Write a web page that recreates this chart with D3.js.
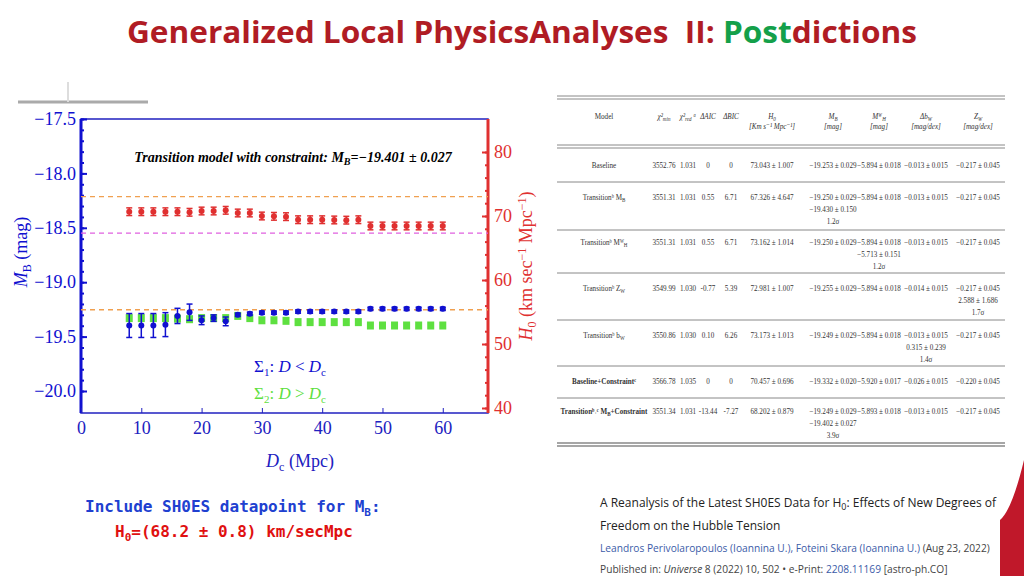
<!DOCTYPE html>
<html>
<head>
<meta charset="utf-8">
<style>body{margin:0;background:#fff}svg{display:block}</style>
<script src="https://cdn.jsdelivr.net/npm/d3@7"></script>
</head>
<body>
<script>
const dc = [8,10,12,14,16,18,20,22,24,26,28,30,32,34,36,38,40,42,44,46,48,50,52,54,56,58,60];
const h0 = [70.67,70.67,70.67,70.67,70.67,70.58,70.78,70.78,70.89,70.47,70.47,70.0,69.95,69.9,69.42,69.42,69.42,69.38,69.35,69.42,68.44,68.44,68.44,68.44,68.44,68.44,68.44];
const h0Err = 0.6;
const mbBlue = [-19.398,-19.398,-19.398,-19.39,-19.31,-19.276,-19.35,-19.33,-19.36,-19.30,-19.29,-19.28,-19.28,-19.28,-19.27,-19.27,-19.27,-19.27,-19.27,-19.27,-19.245,-19.245,-19.245,-19.245,-19.245,-19.245,-19.245];
const mbBlueErr = [0.11,0.11,0.11,0.11,0.07,0.075,0.04,0.03,0.04,0.015,0.015,0.015,0.015,0.015,0.015,0.015,0.015,0.015,0.015,0.015,0.015,0.015,0.015,0.015,0.015,0.015,0.015];
const mbGreen = [-19.33,-19.33,-19.33,-19.33,-19.335,-19.34,-19.33,-19.33,-19.33,-19.31,-19.33,-19.35,-19.35,-19.355,-19.367,-19.367,-19.367,-19.367,-19.367,-19.367,-19.398,-19.398,-19.398,-19.398,-19.398,-19.398,-19.398];
const h0Lines = [{v:73.04,c:"#f0a050"},{v:67.33,c:"#e060e0"}];
const mbLine = -19.253;
const xTicks = [0,10,20,30,40,50,60];
const yTicks = [-17.5,-18.0,-18.5,-19.0,-19.5,-20.0];
const rTicks = [40,50,60,70,80];

const tableHead = ["Model","χ²_min","χ²_red ᵃ","ΔAIC","ΔBIC","H_0|[Km s⁻¹ Mpc⁻¹]","M_B|[mag]","Mᵂ_H|[mag]","Δb_W|[mag/dex]","Z_W|[mag/dex]"];
const tableRows = [
  ["Baseline","3552.76","1.031","0","0","73.043 ± 1.007","−19.253 ± 0.029","−5.894 ± 0.018","−0.013 ± 0.015","−0.217 ± 0.045"],
  ["Transitionᵇ M_B","3551.31","1.031","0.55","6.71","67.326 ± 4.647","−19.250 ± 0.029|−19.430 ± 0.150|1.2σ","−5.894 ± 0.018","−0.013 ± 0.015","−0.217 ± 0.045"],
  ["Transitionᵇ Mᵂ_H","3551.31","1.031","0.55","6.71","73.162 ± 1.014","−19.250 ± 0.029","−5.894 ± 0.018|−5.713 ± 0.151|1.2σ","−0.013 ± 0.015","−0.217 ± 0.045"],
  ["Transitionᵇ Z_W","3549.99","1.030","-0.77","5.39","72.981 ± 1.007","−19.255 ± 0.029","−5.894 ± 0.018","−0.014 ± 0.015","−0.217 ± 0.045|2.588 ± 1.686|1.7σ"],
  ["Transitionᵇ b_W","3550.86","1.030","0.10","6.26","73.173 ± 1.013","−19.249 ± 0.029","−5.894 ± 0.018","−0.013 ± 0.015|0.315 ± 0.239|1.4σ","−0.217 ± 0.045"],
  ["Baseline+Constraintᶜ","3566.78","1.035","0","0","70.457 ± 0.696","−19.332 ± 0.020","−5.920 ± 0.017","−0.026 ± 0.015","−0.220 ± 0.045"],
  ["Transitionᵇ˒ᶜ M_B+Constraint","3551.34","1.031","-13.44","-7.27","68.202 ± 0.879","−19.249 ± 0.029|−19.402 ± 0.027|3.9σ","−5.893 ± 0.018","−0.013 ± 0.015","−0.217 ± 0.045"]
];

const svg = d3.select("body").append("svg").attr("width",1024).attr("height",576);

// title
const title = svg.append("text").attr("x",522).attr("y",43).attr("text-anchor","middle").attr("xml:space","preserve")
  .style("white-space","pre")
  .attr("font-family","Open Sans, sans-serif").attr("font-weight","bold").attr("font-size",30).attr("fill","#b01c24")
  .attr("textLength",790).attr("lengthAdjust","spacingAndGlyphs");
title.append("tspan").text("Generalized Local PhysicsAnalyses  II: ");
title.append("tspan").attr("fill","#14a04a").text("Post");
title.append("tspan").text("dictions");

svg.append("line").attr("x1",18).attr("x2",148).attr("y1",102).attr("y2",102).attr("stroke","#aaa").attr("stroke-width",3);
svg.append("line").attr("x1",68).attr("x2",68).attr("y1",82).attr("y2",102).attr("stroke","#ddd").attr("stroke-width",2);

// chart
const L=81,R=488,T=119,B=413;
const x = d3.scaleLinear().domain([0,67.5]).range([L,R]);
const y = d3.scaleLinear().domain([-17.5,-20.0]).range([T,391]);
const yr = d3.scaleLinear().domain([80,40]).range([152,408]);
const serif = "Liberation Serif, DejaVu Serif, serif";

svg.append("rect").attr("x",L).attr("y",T).attr("width",R-L).attr("height",B-T).attr("fill","none").attr("stroke","#2020c0").attr("stroke-width",1.5);
svg.append("line").attr("x1",L).attr("x2",L).attr("y1",T).attr("y2",B).attr("stroke","#1010d0").attr("stroke-width",3);
svg.append("line").attr("x1",R).attr("x2",R).attr("y1",T).attr("y2",B).attr("stroke","#e03030").attr("stroke-width",3);

const gx = svg.append("g").attr("transform",`translate(0,${B})`)
  .call(d3.axisBottom(x).tickValues(xTicks).tickSize(-5).tickPadding(8));
gx.select(".domain").remove();
gx.selectAll("line").attr("stroke","#2020c0");
gx.selectAll("text").attr("font-family",serif).attr("font-size",18).attr("fill","#2020c0");

const gl = svg.append("g").attr("transform",`translate(${L},0)`)
  .call(d3.axisLeft(y).tickValues(yTicks).tickFormat(d=>d3.format(".1f")(d).replace("-","−")).tickSize(-6).tickPadding(5));
gl.select(".domain").remove();
gl.selectAll("line").attr("stroke","#1010d0").attr("stroke-width",2);
gl.selectAll("text").attr("font-family",serif).attr("font-size",18).attr("fill","#1010d0");
svg.append("g").attr("transform",`translate(${L},0)`).call(d3.axisLeft(y).ticks(25).tickSize(-3).tickFormat("")).call(g=>g.select(".domain").remove()).selectAll("line").attr("stroke","#1010d0").attr("stroke-width",2);

const gr = svg.append("g").attr("transform",`translate(${R},0)`)
  .call(d3.axisRight(yr).tickValues(rTicks).tickSize(-6).tickPadding(6));
gr.select(".domain").remove();
gr.selectAll("line").attr("stroke","#e03030").attr("stroke-width",2);
gr.selectAll("text").attr("font-family",serif).attr("font-size",18).attr("fill","#e03030");
svg.append("g").attr("transform",`translate(${R},0)`).call(d3.axisRight(yr).ticks(20).tickSize(-3).tickFormat("")).call(g=>g.select(".domain").remove()).selectAll("line").attr("stroke","#e03030").attr("stroke-width",2);

h0Lines.forEach(l=>svg.append("line").attr("x1",L).attr("x2",R).attr("y1",yr(l.v)).attr("y2",yr(l.v)).attr("stroke",l.c).attr("stroke-width",1.3).attr("stroke-dasharray","5,4"));
svg.append("line").attr("x1",L).attr("x2",R).attr("y1",y(mbLine)).attr("y2",y(mbLine)).attr("stroke","#f0a050").attr("stroke-width",1.3).attr("stroke-dasharray","5,4");

svg.append("text").attr("x",293).attr("y",162).attr("text-anchor","middle").attr("font-family",serif)
  .attr("font-weight","bold").attr("font-style","italic").attr("font-size",14)
  .html('Transition model with constraint: M<tspan font-size="10" dy="3">B</tspan><tspan dy="-3">=−19.401 ± 0.027</tspan>');

// green squares
svg.append("g").selectAll("rect").data(dc).join("rect")
  .attr("x",d=>x(d)-3.5).attr("y",(d,i)=>y(mbGreen[i])-4).attr("width",7).attr("height",8).attr("fill","#5ee040");

function errDots(vals, errs, sy, col){
  const g = svg.append("g").attr("stroke",col).attr("fill",col);
  dc.forEach((d,i)=>{
    const e = Array.isArray(errs)?errs[i]:errs;
    const y0=sy(vals[i]-e), y1=sy(vals[i]+e), cx=x(d);
    g.append("line").attr("x1",cx).attr("x2",cx).attr("y1",y0).attr("y2",y1).attr("stroke-width",1.5);
    [y0,y1].forEach(yy=>g.append("line").attr("x1",cx-3).attr("x2",cx+3).attr("y1",yy).attr("y2",yy).attr("stroke-width",1.5));
    g.append("circle").attr("cx",cx).attr("cy",sy(vals[i])).attr("r",3).attr("stroke","none");
  });
}
errDots(h0, h0Err, yr, "#e03030");
errDots(mbBlue, mbBlueErr, y, "#1010d0");

svg.append("text").attr("x",254).attr("y",372).attr("font-family",serif).attr("font-size",17).attr("fill","#1010d0")
  .html('Σ<tspan font-size="11" dy="4">1</tspan><tspan dy="-4">: </tspan><tspan font-style="italic">D</tspan> &lt; <tspan font-style="italic">D</tspan><tspan font-size="11" dy="4">c</tspan>');
svg.append("text").attr("x",254).attr("y",399).attr("font-family",serif).attr("font-size",17).attr("fill","#5ee040")
  .html('Σ<tspan font-size="11" dy="4">2</tspan><tspan dy="-4">: </tspan><tspan font-style="italic">D</tspan> &gt; <tspan font-style="italic">D</tspan><tspan font-size="11" dy="4">c</tspan>');

svg.append("text").attr("x",300).attr("y",467).attr("text-anchor","middle").attr("font-family",serif).attr("font-size",18).attr("fill","#2020c0")
  .html('<tspan font-style="italic">D</tspan><tspan font-size="12" dy="4">c</tspan><tspan dy="-4"> (Mpc)</tspan>');
svg.append("text").attr("transform","translate(27,252) rotate(-90)").attr("text-anchor","middle").attr("font-family",serif).attr("font-size",18).attr("fill","#1010d0")
  .html('<tspan font-style="italic">M</tspan><tspan font-size="12" dy="4">B</tspan><tspan dy="-4"> (mag)</tspan>');
svg.append("text").attr("transform","translate(532,266) rotate(-90)").attr("text-anchor","middle").attr("font-family",serif).attr("font-size",18).attr("fill","#e03030")
  .html('<tspan font-style="italic">H</tspan><tspan font-size="12" dy="4">0</tspan><tspan dy="-4"> (km sec</tspan><tspan font-size="12" dy="-6">−1</tspan><tspan dy="6"> Mpc</tspan><tspan font-size="12" dy="-6">−1</tspan><tspan dy="6">)</tspan>');

// table
const colX = [604,664,688,708,731,772,833,879,926,978];
const tb = svg.append("g").attr("font-family",serif).attr("font-size",8.5).attr("fill","#333").attr("text-anchor","middle");
const hl = (yy,w)=>tb.append("line").attr("x1",557).attr("x2",1005).attr("y1",yy).attr("y2",yy).attr("stroke","#888").attr("stroke-width",w||1);
hl(96);hl(99);hl(145);hl(148);
[182,230,273,320,366,398].forEach(v=>hl(v));hl(443,1.5);hl(446,1.5);
function cell(tx,ty,s,opts){
  const t = tb.append("text").attr("transform",`translate(${tx},${ty}) scale(0.84,1)`)
    .attr("font-weight",opts.bold?"bold":null).attr("font-style",opts.it?"italic":null);
  const parts = s.split(/_(\w+)/);
  let dy = 0;
  parts.forEach((p,k)=>{
    if(!p) return;
    if(k%2){ t.append("tspan").attr("font-size",6).attr("dy",2-dy).text(p); dy=2; }
    else { t.append("tspan").attr("dy",-dy).text(p); dy=0; }
  });
}
tableHead.forEach((h,i)=>h.split("|").forEach((s,k)=>cell(colX[i],119+k*10,s,{it:i>0})));
const rowY = [168,200,245,291,338,384,414];
tableRows.forEach((r,j)=>r.forEach((c,i)=>c.split("|").forEach((s,k)=>cell(colX[i],rowY[j]+k*12,s,{bold:j>=5&&i==0}))));

// notes
svg.append("text").attr("x",85).attr("y",512).attr("font-family","DejaVu Sans Mono, monospace").attr("font-weight","bold").attr("font-size",16).attr("fill","#2040d0")
  .html('Include SH0ES datapoint for M<tspan font-size="11" dy="4">B</tspan><tspan dy="-4">:</tspan>');
svg.append("text").attr("x",115).attr("y",537).attr("font-family","DejaVu Sans Mono, monospace").attr("font-weight","bold").attr("font-size",16).attr("fill","#e01010")
  .html('H<tspan font-size="11" dy="4">0</tspan><tspan dy="-4">=(68.2 ± 0.8) km/secMpc</tspan>');

const os = "Open Sans, sans-serif";
svg.append("text").attr("x",600).attr("y",507).attr("font-family",os).attr("font-size",12).attr("fill","#222")
  .html('A Reanalysis of the Latest SH0ES Data for H<tspan font-size="9" dy="3">0</tspan><tspan dy="-3">: Effects of New Degrees of</tspan>');
svg.append("text").attr("x",600).attr("y",530).attr("font-family",os).attr("font-size",12).attr("fill","#222").text("Freedom on the Hubble Tension");
svg.append("text").attr("x",600).attr("y",552).attr("font-family",os).attr("font-size",10.2).attr("fill","#3b5ba8")
  .html('Leandros Perivolaropoulos (Ioannina U.), Foteini Skara (Ioannina U.) <tspan fill="#444">(Aug 23, 2022)</tspan>');
svg.append("text").attr("x",600).attr("y",573).attr("font-family",os).attr("font-size",10.2).attr("fill","#444")
  .html('Published in: <tspan font-style="italic">Universe</tspan> 8 (2022) 10, 502 • e-Print: <tspan fill="#3b5ba8">2208.11169</tspan> [astro-ph.CO]');

svg.append("path").attr("d","M1024,460 Q1012,510 1000,520 L1000,576 L1024,576 Z").attr("fill","#c0182a");
</script>
</body>
</html>
